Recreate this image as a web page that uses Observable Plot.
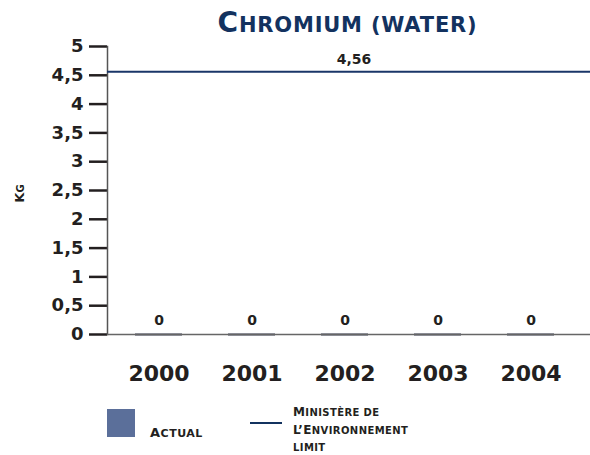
<!DOCTYPE html>
<html><head><meta charset="utf-8">
<script src="https://cdn.jsdelivr.net/npm/d3@7"></script>
<script src="https://cdn.jsdelivr.net/npm/@observablehq/plot@0.6"></script>
<style>
body{margin:0;background:#fff;font-family:"DejaVu Sans",sans-serif;color:#231f20}
#wrap{position:relative;width:590px;height:455px;overflow:hidden}
#chart{position:absolute;left:0;top:0}
.abs{position:absolute;white-space:nowrap;font-weight:bold}
#title{left:0;width:590px;text-align:center;top:6px;color:#13325f;letter-spacing:0.8px;padding-left:105px;box-sizing:border-box}
.big{font-size:28px}.sm{font-size:21px}
#ylab{left:10px;top:186px;transform:rotate(-90deg);transform-origin:center;font-size:13px}
#sw{left:107px;top:409px;width:28px;height:28px;background:#5b6f9a}
#l1{left:150px;top:425px;font-size:13px;letter-spacing:0.5px}
#ln{left:250px;top:422px;width:32px;height:2px;background:#13325f}
#l2{left:293px;top:404px;font-size:12px;line-height:16.5px;letter-spacing:0.4px}
.s{font-size:10px}
#l1 .s{font-size:11px}
</style></head>
<body><div id="wrap">
<div id="chart"></div>
<div id="title" class="abs"><span class="big">C</span><span class="sm">HROMIUM (WATER)</span></div>
<div id="ylab" class="abs">K<span class="s">G</span></div>
<div id="sw" class="abs"></div>
<div id="l1" class="abs">A<span class="s">CTUAL</span></div>
<div id="ln" class="abs"></div>
<div id="l2" class="abs">M<span class="s">INISTÈRE DE</span><br>L’E<span class="s">NVIRONNEMENT</span><br><span class="s">LIMIT</span></div>
</div>
<script>
const years = ["2000","2001","2002","2003","2004"];
const actual = [0, 0, 0, 0, 0];
const limit = 4.56;
const yTicks = [0,0.5,1,1.5,2,2.5,3,3.5,4,4.5,5];

const data = years.map((y,i)=>({year:y, value:actual[i]}));
const fmt = d => String(d).replace(".", ",");

const plot = Plot.plot({
  width: 590, height: 455,
  marginTop: 46, marginBottom: 121, marginLeft: 107, marginRight: 0,
  style: {fontFamily: "DejaVu Sans, sans-serif", color: "#231f20", background: "transparent"},
  x: {domain: years, range: [133, 555], paddingInner: 0.5, paddingOuter: 0, label: null},
  y: {domain: [0, 5], label: null},
  marks: [
    Plot.axisY({ticks: yTicks, tickSize: 18, tickPadding: 6, tickFormat: fmt, fontSize: 18, fontWeight: "bold", strokeWidth: 2.5, stroke: "#231f20", label: null}),
    Plot.axisX({tickSize: 0, tickPadding: 31, fontSize: 22, fontWeight: "bold", label: null}),
    Plot.frame({anchor: "left", stroke: "#555", strokeWidth: 1.5}),
    Plot.barY(data, {x: "year", y: "value", fill: "#5b6f9a"}),
    Plot.tickY(data, {x: "year", y: "value", stroke: "#33384f", strokeWidth: 2}),
    Plot.ruleY([0], {stroke: "#666", strokeWidth: 1.5}),
    Plot.ruleY([limit], {stroke: "#1a3668", strokeWidth: 2}),
    Plot.text(data, {x: "year", y: "value", text: d => fmt(d.value), dy: -14, fontSize: 14, fontWeight: 600}),
    Plot.text([limit], {y: d => d, text: d => fmt(d), frameAnchor: "middle", dx: 5, dy: -12, fontSize: 14, fontWeight: "bold"})
  ]
});
document.getElementById("chart").appendChild(plot);
</script>
</body></html>
